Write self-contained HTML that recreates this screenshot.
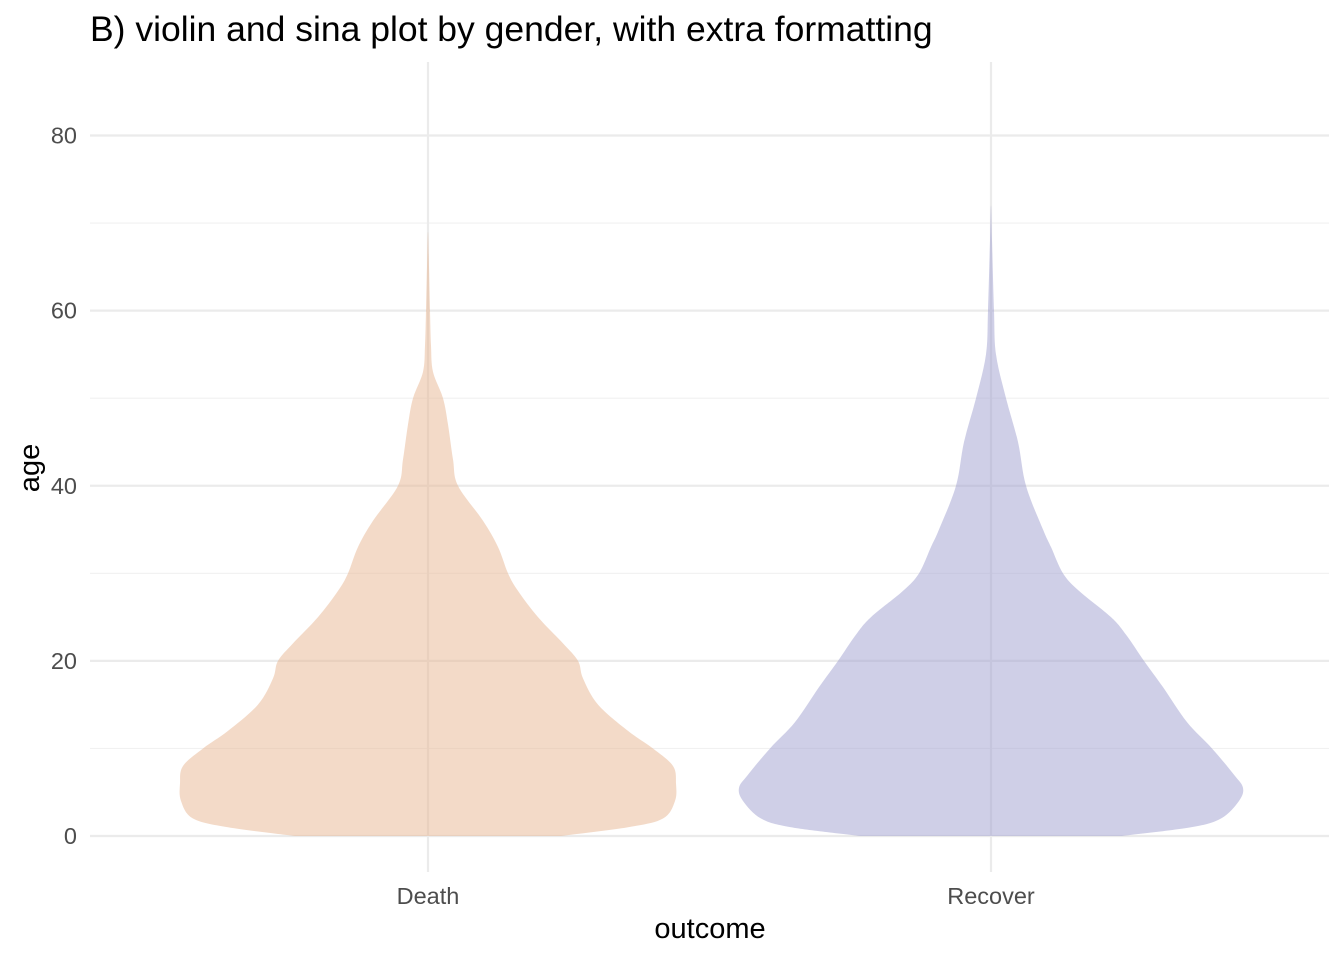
<!DOCTYPE html>
<html><head><meta charset="utf-8">
<style>
html,body{margin:0;padding:0;background:#fff;}
svg{display:block;font-family:"Liberation Sans",Arial,sans-serif;}
</style></head>
<body>
<svg id="chart" width="1344" height="960" viewBox="0 0 1344 960" xmlns="http://www.w3.org/2000/svg">
<text x="90" y="41" font-size="35.5" fill="#000">B) violin and sina plot by gender, with extra formatting</text>
<g id="grid"></g>
<g id="violins"></g>
<g id="axes"></g>
<text x="710" y="938" font-size="29" text-anchor="middle" fill="#000">outcome</text>
<text transform="translate(39,468) rotate(-90)" font-size="29" text-anchor="middle" fill="#000">age</text>
</svg>
<script>
const categories = ["Death", "Recover"];
const yTicks = [0, 20, 40, 60, 80];
const yMinor = [10, 30, 50, 70];
const deathAges =  [0, 1, 2, 4, 6, 8, 10, 12, 15, 18, 20, 22, 25, 28, 30, 33, 36, 40, 43, 47, 50, 53, 56, 60, 65, 69];
const deathWidth = [133, 200, 235, 247, 248, 245, 225, 200, 170, 155, 150, 135, 110, 90, 80, 70, 55, 30, 25, 20, 15, 5, 3, 2, 1, 0];
const recoverAges =  [0, 1, 2, 4, 5.5, 7, 10, 13, 17, 20, 23, 25, 28, 30, 33, 35, 40, 45, 50, 55, 60, 68, 72];
const recoverWidth = [131, 200, 230, 248, 252, 243, 221, 196, 172, 153, 135, 120, 88, 72, 60, 52, 35, 27, 15, 5, 3, 1, 0];
const fills = ["rgba(232,181,146,0.5)", "rgba(160,159,208,0.5)"];

const NS = "http://www.w3.org/2000/svg";
const y0px = 836, yScale = 700.5 / 80;
const yPos = v => y0px - v * yScale;
const xCenters = {Death: 428, Recover: 991};
const xPos = c => xCenters[c];
const grid = document.getElementById('grid');
const axes = document.getElementById('axes');
function mk(tag, attrs, parent){const e=document.createElementNS(NS,tag);for(const k in attrs)e.setAttribute(k,attrs[k]);parent.appendChild(e);return e;}

yMinor.forEach(v=>{
  const l=mk('line',{x1:90,x2:1329,y1:yPos(v),y2:yPos(v),stroke:'#f1f1f1','stroke-width':1.2},grid);
  
  
});
yTicks.forEach(v=>{
  const l=mk('line',{x1:90,x2:1329,y1:yPos(v),y2:yPos(v),stroke:'#ebebeb','stroke-width':2.2},grid);
  
  
  const t=mk('text',{x:77,y:yPos(v)+8,'font-size':23.5,'text-anchor':'end',fill:'#4d4d4d'},axes);
  t.textContent=v;
  
  
});
categories.forEach(c=>{
  const l=mk('line',{x1:xPos(c),x2:xPos(c),y1:62,y2:872,stroke:'#ebebeb','stroke-width':2.2},grid);
  
  
  const t=mk('text',{x:xPos(c),y:904,'font-size':23.5,'text-anchor':'middle',fill:'#4d4d4d'},axes);
  t.textContent=c;
  
  
});

function smoothPath(pts){
  let d='M'+pts[0][0]+','+pts[0][1];
  for(let i=0;i<pts.length-1;i++){
    const p0=pts[Math.max(i-1,0)],p1=pts[i],p2=pts[i+1],p3=pts[Math.min(i+2,pts.length-1)];
    const c1=[p1[0]+(p2[0]-p0[0])/6,p1[1]+(p2[1]-p0[1])/6];
    const c2=[p2[0]-(p3[0]-p1[0])/6,p2[1]-(p3[1]-p1[1])/6];
    d+=' C'+c1[0]+','+c1[1]+' '+c2[0]+','+c2[1]+' '+p2[0]+','+p2[1];
  }
  return d;
}
const vg=document.getElementById('violins');
[[deathAges,deathWidth],[recoverAges,recoverWidth]].forEach((s,i)=>{
  const cx=xPos(categories[i]);
  const right=s[0].map((a,j)=>[cx+s[1][j],yPos(a)]);
  const left=s[0].map((a,j)=>[cx-s[1][j],yPos(a)]).reverse();
  const pts=right.concat(left.slice(1));
  const p=mk('path',{d:smoothPath(pts)+' Z',fill:fills[i]},vg);
  
  
});
</script>
</body></html>
